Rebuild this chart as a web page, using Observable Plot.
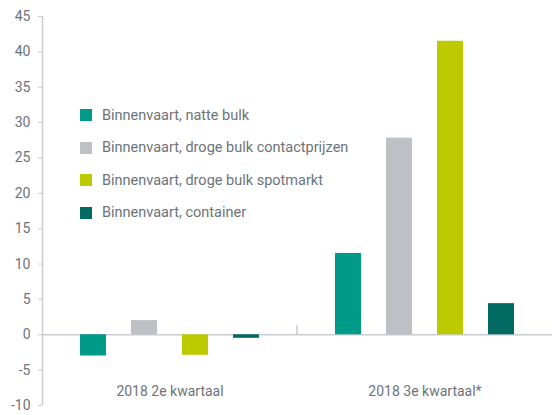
<!DOCTYPE html>
<html><head><meta charset="utf-8">
<script src="https://cdn.jsdelivr.net/npm/d3@7"></script>
<script src="https://cdn.jsdelivr.net/npm/@observablehq/plot@0.6"></script>
<style>
body{margin:0;background:#fff;font-family:Roboto,sans-serif;}
#wrap{position:relative;width:552px;height:415px;}
#legend{position:absolute;left:80px;top:99px;font-size:14.5px;color:#6c747a;}
.row{display:flex;align-items:center;height:32.5px;margin:0;}
.sw{width:12px;height:12px;margin-right:10px;flex:none;}
</style></head>
<body><div id="wrap"><div id="legend"></div></div>
<script>
const quarters = ["2018 2e kwartaal", "2018 3e kwartaal*"];
const series = ["Binnenvaart, natte bulk", "Binnenvaart, droge bulk contactprijzen", "Binnenvaart, droge bulk spotmarkt", "Binnenvaart, container"];
const colors = ["#009a88", "#bdc0c4", "#bdca00", "#006a63"];
const q2Values = [-3.0, 2.0, -2.9, -0.5];
const q3Values = [11.5, 27.8, 41.5, 4.4];
const yTicks = [-10, -5, 0, 5, 10, 15, 20, 25, 30, 35, 40, 45];

const data = [];
series.forEach((s, i) => {
  data.push({q: quarters[0], s, v: q2Values[i]});
  data.push({q: quarters[1], s, v: q3Values[i]});
});

const axisColor = "#c9ccd0";
const textColor = "#6c747a";
let facetCall = 0;

const chart = Plot.plot({
  width: 552, height: 415,
  marginLeft: 42, marginRight: 0, marginTop: 16, marginBottom: 10,
  style: {fontFamily: "Roboto, sans-serif", fontSize: "14px", color: textColor, background: "#fff"},
  fx: {domain: quarters, padding: 0, axis: null},
  x: {domain: series, paddingInner: 0.49, paddingOuter: 0.745, axis: null},
  y: {domain: [-10, 45], ticks: yTicks, axis: null},
  color: {domain: series, range: colors},
  marks: [
    Plot.ruleY([0], {stroke: axisColor, strokeWidth: 1.5}),
    Plot.barY(data, {fx: "q", x: "s", y: "v", fill: "s"}),
    Plot.text(quarters, {fx: d => d, frameAnchor: "middle", y: () => -8, text: d => d, fill: textColor, fontSize: 14}),
    Plot.axisY(yTicks, {tickSize: 4, tickPadding: 8, stroke: axisColor, fill: textColor, fontSize: 14, label: null, tickFormat: d => String(d), facetAnchor: "left"}),
    (index, scales, values, dimensions) => {
      const i = facetCall++;
      const g = d3.create("svg:g");
      const y = scales.y;
      const ml = dimensions.marginLeft;
      if (i === 0) {
        g.append("line").attr("x1", ml + 0.5).attr("x2", ml + 0.5)
          .attr("y1", y(45)).attr("y2", y(-10)).attr("stroke", axisColor).attr("stroke-width", 1.5);
      } else {
        g.append("line").attr("x1", ml).attr("x2", ml)
          .attr("y1", y(0) - 9).attr("y2", y(0)).attr("stroke", axisColor).attr("stroke-width", 1.5);
      }
      return g.node();
    }
  ]
});
document.getElementById("wrap").prepend(chart);
const lg = document.getElementById("legend");
series.forEach((s, i) => {
  const r = document.createElement("div"); r.className = "row";
  const sw = document.createElement("div"); sw.className = "sw"; sw.style.background = colors[i];
  const t = document.createElement("span"); t.textContent = s;
  r.append(sw, t); lg.append(r);
});
</script></body></html>
